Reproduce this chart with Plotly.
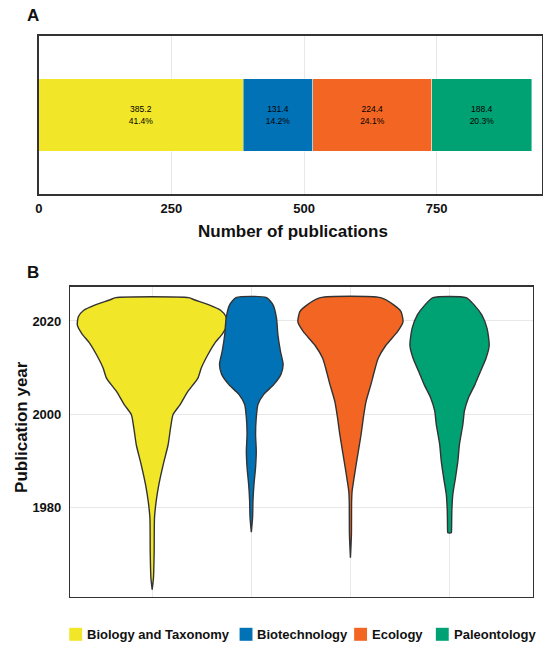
import plotly.graph_objects as go

# ---------------- data ----------------
categories = ["Biology and Taxonomy", "Biotechnology", "Ecology", "Paleontology"]
publications = [385.2, 131.4, 224.4, 188.4]
percent_labels = ["41.4%", "14.2%", "24.1%", "20.3%"]

pub_ticks = [0, 250, 500, 750]
year_ticks = [1980, 2000, 2020]

# violin outlines: year and half-width (density, x units)
years_bio = [2025, 2024.5, 2023.4, 2022.3, 2020.9, 2019.1, 2017.3, 2015.2, 2012.7, 2009.9,
             2007.7, 2004.9, 2002, 1999.9, 1997, 1993.4, 1989.1, 1984.9, 1981.3, 1977.7,
             1970.6, 1964.9, 1962.4]
width_bio = [0.368, 0.43, 0.58, 0.69, 0.745, 0.755, 0.71, 0.63, 0.56, 0.495,
             0.46, 0.36, 0.28, 0.21, 0.185, 0.16, 0.11, 0.067, 0.04, 0.023,
             0.02, 0.013, 0.0]

years_biotech = [2025, 2023.4, 2020.6, 2017.1, 2013.5, 2010.7, 2008.6, 2006.4, 2004.3, 2002.1,
                 1999.3, 1995.7, 1992.1, 1988.6, 1985, 1981.5, 1977.9, 1974.7]
width_biotech = [0.154, 0.22, 0.254, 0.268, 0.294, 0.321, 0.30, 0.228, 0.127, 0.067,
                 0.05, 0.043, 0.05, 0.043, 0.027, 0.017, 0.013, 0.0]

years_eco = [2025, 2023.4, 2022, 2019.8, 2017.7, 2014.8, 2012, 2009.1, 2006.4, 2002.7,
             1999.2, 1995.6, 1992.1, 1987.8, 1983.5, 1981.3, 1974.2, 1969.2]
width_eco = [0.304, 0.44, 0.51, 0.53, 0.475, 0.358, 0.28, 0.24, 0.207, 0.157,
             0.13, 0.107, 0.08, 0.047, 0.017, 0.012, 0.01, 0.0]

years_paleo = [2025, 2023.4, 2021.3, 2018.4, 2014.8, 2012, 2009.1, 2006.4, 2003.5, 2000.7,
               1997.8, 1993.6, 1990, 1986.4, 1982.8, 1979.2, 1975.2, 1974.6, 1974.5]
width_paleo = [0.167, 0.25, 0.325, 0.378, 0.40, 0.368, 0.31, 0.257, 0.19, 0.15,
               0.134, 0.10, 0.084, 0.06, 0.033, 0.023, 0.02, 0.018, 0.0]

violin_years = [years_bio, years_biotech, years_eco, years_paleo]
violin_widths = [width_bio, width_biotech, width_eco, width_paleo]

# ---------------- style ----------------
colors = ["#F2E629", "#0072B5", "#F26522", "#00A273"]
FONT = "Liberation Sans, Arial, sans-serif"
W, H = 550, 650
grid_c = "#E8E8E8"
border_c = "#333333"


def px_x(p):
    return p / W


def px_y(p):
    return 1 - p / H


fig = go.Figure()

# ---- panel A: stacked horizontal bar ----
for cat, val, pct, col in zip(categories, publications, percent_labels, colors):
    fig.add_trace(go.Bar(
        x=[val], y=[1], orientation="h", name=cat,
        marker=dict(color=col, line=dict(color="rgba(255,255,255,0.7)", width=0.6)),
        width=0.46,
        text=[f"{val}<br>{pct}"], textposition="inside", insidetextanchor="middle",
        textangle=0, constraintext="none",
        textfont=dict(family=FONT, size=8.5, color="#000000"),
        showlegend=False, hoverinfo="skip",
        xaxis="x", yaxis="y",
    ))

# ---- panel B: violins ----
for i, (ys, ws, col) in enumerate(zip(violin_years, violin_widths, colors)):
    c = i + 1
    xs = [c + w for w in ws] + [c - w for w in reversed(ws)]
    yy = list(ys) + list(reversed(ys))
    xs.append(xs[0])
    yy.append(yy[0])
    fig.add_trace(go.Scatter(
        x=xs, y=yy, mode="lines", fill="toself", fillcolor=col,
        line=dict(color=border_c, width=1.4, shape="spline", smoothing=0.6),
        showlegend=False, hoverinfo="skip",
        xaxis="x2", yaxis="y2",
    ))

tickfont = dict(family=FONT, size=13, color="#111111", weight="bold")

fig.update_layout(
    width=W, height=H,
    margin=dict(l=0, r=0, t=0, b=0),
    paper_bgcolor="white", plot_bgcolor="white",
    barmode="stack",
    font=dict(family=FONT),
    xaxis=dict(
        domain=[px_x(35), px_x(541.7)], anchor="y",
        range=[0, 948], tickvals=pub_ticks, ticktext=[str(t) for t in pub_ticks],
        tickfont=tickfont, ticks="outside", ticklen=2, tickcolor="rgba(0,0,0,0)",
        showgrid=True, gridcolor=grid_c, gridwidth=1, zeroline=False,
        showline=True, linecolor=border_c, linewidth=1.3, mirror=True,
    ),
    yaxis=dict(
        domain=[px_y(194.3), px_y(35.7)], anchor="x",
        range=[0.5, 1.5], showticklabels=False, showgrid=False, zeroline=False,
        showline=True, linecolor=border_c, linewidth=1.3, mirror=True,
    ),
    xaxis2=dict(
        domain=[px_x(66.7), px_x(532.7)], anchor="y2",
        range=[0.173, 4.84], tickvals=[1, 2, 3, 4], showticklabels=False,
        showgrid=True, gridcolor=grid_c, gridwidth=1, zeroline=False,
        showline=True, linecolor=border_c, linewidth=1.3, mirror=True,
    ),
    yaxis2=dict(
        domain=[px_y(597), px_y(286.7)], anchor="x2",
        range=[1960.8, 2027.35], tickvals=year_ticks, ticktext=[str(t) for t in year_ticks],
        tickfont=tickfont, ticks="outside", ticklen=5, tickcolor="rgba(0,0,0,0)",
        showgrid=True, gridcolor=grid_c, gridwidth=1, zeroline=False,
        showline=True, linecolor=border_c, linewidth=1.3, mirror=True,
    ),
)

annotations = [
    dict(text="<b>A</b>", x=px_x(29), y=px_y(16), font=dict(family=FONT, size=17, color="#111")),
    dict(text="<b>B</b>", x=px_x(29.5), y=px_y(273), font=dict(family=FONT, size=17, color="#111")),
    dict(text="<b>Number of publications</b>", x=px_x(291), y=px_y(231),
         font=dict(family=FONT, size=17, color="#111")),
    dict(text="<b>Publication year</b>", x=px_x(17), y=px_y(427), textangle=-90,
         font=dict(family=FONT, size=17, color="#111")),
]
for a in annotations:
    a.update(xref="paper", yref="paper", showarrow=False, xanchor="center", yanchor="middle")

# ---- manual legend ----
legend_square_left = [65.7, 237.3, 352.7, 435.0]
square_size = 13
legend_y = 634.3
shapes = []
for cat, col, lx in zip(categories, colors, legend_square_left):
    shapes.append(dict(
        type="rect", xref="paper", yref="paper",
        x0=px_x(lx), x1=px_x(lx + square_size),
        y0=px_y(legend_y + square_size / 2), y1=px_y(legend_y - square_size / 2),
        fillcolor=col, line=dict(width=0),
    ))
    annotations.append(dict(
        text=f"<b>{cat}</b>", xref="paper", yref="paper", showarrow=False,
        x=px_x(lx + square_size + 3), y=px_y(legend_y), xanchor="left", yanchor="middle",
        font=dict(family=FONT, size=13, color="#111"),
    ))

fig.update_layout(annotations=annotations, shapes=shapes)

fig.write_html(
    "out.html",
    config={"displayModeBar": False, "staticPlot": True},
    post_script="document.body.style.margin='0px';document.body.style.padding='0px';",
)
